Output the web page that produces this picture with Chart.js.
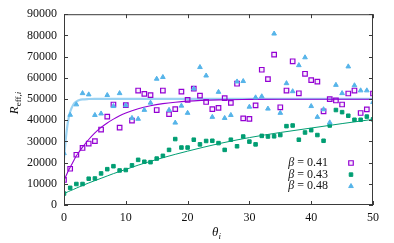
<!DOCTYPE html>
<html><head><meta charset="utf-8">
<script src="https://cdn.jsdelivr.net/npm/chart.js@4.4.0/dist/chart.umd.min.js"></script>
<style>html,body{margin:0;padding:0;background:#fff;}#wrap{width:394px;height:243px;position:relative;}</style>
</head><body><div id="wrap"><canvas id="c" width="394" height="243"></canvas></div>
<script>
const theta = [0,1,2,3,4,5,6,7,8,9,10,11,12,13,14,15,16,17,18,19,20,21,22,23,24,25,26,27,28,29,30,31,32,33,34,35,36,37,38,39,40,41,42,43,44,45,46,47,48,49,50];
const beta041 = [11800,17100,23700,26900,29000,30100,35600,41700,47400,36500,47100,39800,54000,52400,51800,44800,54000,42900,45200,53500,49600,54900,51600,48600,45200,45800,50400,48200,57200,40900,40600,47000,63800,59400,70900,46100,54000,67800,52700,61900,58900,58200,44200,49900,49300,47400,52600,54000,43400,45100,52600];
const beta043 = [5400,8100,9900,9900,12400,12500,14900,16900,18300,16300,16500,18700,21300,20400,20200,21900,23200,26000,31100,27100,27100,30800,28600,30200,30300,29200,26000,30800,27700,32300,29900,28600,32600,32300,32400,33000,37200,37500,30800,34200,35300,33000,30300,37500,44800,43800,42100,40200,40200,41700,40400];
const beta048 = [24400,42500,47400,52700,52100,42400,43100,51800,46600,52700,47000,41000,40600,44800,48200,59500,60300,44800,38800,46800,43400,54900,65000,61000,41500,53300,41000,42400,58200,58400,46300,50700,51200,45400,80800,43400,57400,53600,65900,69600,46600,41500,45100,38900,56600,52700,65300,56400,54000,54000,48500];
const fitTheta = [0,0.25,0.5,0.75,1,1.5,2,2.5,3,4,5,6,7,8,9,10,12,14,16,18,20,25,30,35,40,45,50];
const fit041 = [11700,13300,14900,16400,17800,20500,23200,25300,27300,30900,34000,36600,38700,40500,42100,43400,45400,46800,47800,48500,49000,49600,49800,49900,49900,49900,49900];
const fit043 = [5400,5700,6050,6400,6700,7300,7950,8600,9200,10400,11500,12600,13700,14800,15800,16800,18800,20600,22300,23900,25400,28900,31800,34200,36300,38400,40400];
const fit048 = [22000,30000,36500,41000,44000,47300,48800,49500,49800,50000,50100,50100,50100,50100,50100,50100,50100,50100,50100,50100,50100,50100,50100,50100,50100,50100,50100];
const xTicks = [0,10,20,30,40,50];
const yTicks = [0,10000,20000,30000,40000,50000,60000,70000,80000,90000];
const seriesLabels = ['0.41','0.43','0.48'];

const C41 = '#9400d3', C43 = '#009e73', C48 = '#56b4e9';
const pts = (ys) => theta.map((t,i)=>({x:t,y:ys[i]}));
const fpts = (ys) => fitTheta.map((t,i)=>({x:t,y:ys[i]}));
const FONT = '"Liberation Serif","DejaVu Serif",serif';

const styles = [
  {pointStyle:'rect', radius:3.2, color:C41, fill:'rgba(148,0,211,0.06)', bw:1.2},
  {pointStyle:'rect', radius:2.5, color:C43, fill:C43, bw:1},
  {pointStyle:'triangle', radius:2.7, color:C48, fill:C48, bw:1}
];

function drawMarker(ctx, st, x, y){
  ctx.save();
  ctx.strokeStyle = st.color; ctx.fillStyle = st.fill; ctx.lineWidth = st.bw;
  ctx.beginPath();
  if (st.pointStyle === 'rect') {
    const s = Math.SQRT1_2 * st.radius;
    ctx.rect(x - s, y - s, 2*s, 2*s);
  } else {
    const r = st.radius;
    ctx.moveTo(x, y - r);
    ctx.lineTo(x + r*0.866, y + r*0.5);
    ctx.lineTo(x - r*0.866, y + r*0.5);
    ctx.closePath();
  }
  ctx.fill(); ctx.stroke();
  ctx.restore();
}

const framePlugin = {
  id:'frame',
  afterDraw(chart){
    const {ctx, chartArea:a, scales:{x,y}} = chart;
    ctx.save();
    ctx.strokeStyle = '#3a3a3a'; ctx.lineWidth = 1;
    ctx.strokeRect(a.left+0.5, a.top+0.5, a.right-a.left-1, a.bottom-a.top-1);
    ctx.beginPath();
    xTicks.forEach(v=>{
      const px = Math.round(x.getPixelForValue(v))+0.5;
      ctx.moveTo(px, a.bottom); ctx.lineTo(px, a.bottom-4);
      ctx.moveTo(px, a.top); ctx.lineTo(px, a.top+4);
    });
    yTicks.forEach(v=>{
      const py = Math.round(y.getPixelForValue(v))+0.5;
      ctx.moveTo(a.left, py); ctx.lineTo(a.left+4, py);
      ctx.moveTo(a.right, py); ctx.lineTo(a.right-4, py);
    });
    ctx.stroke();

    ctx.fillStyle = '#111';
    ctx.save();
    ctx.translate(14, 103);
    ctx.rotate(-Math.PI/2);
    ctx.textBaseline = 'alphabetic';
    ctx.font = 'italic 13px ' + FONT;
    const wR = ctx.measureText('R').width;
    ctx.font = '9px ' + FONT;
    const wE = ctx.measureText('eff,').width;
    ctx.font = 'italic 9px ' + FONT;
    const wI = ctx.measureText('i').width;
    let sx = -(wR + wE + wI)/2;
    ctx.font = 'italic 13px ' + FONT;
    ctx.fillText('R', sx, 4); sx += wR;
    ctx.font = '9px ' + FONT;
    ctx.fillText('eff,', sx, 7); sx += wE;
    ctx.font = 'italic 9px ' + FONT;
    ctx.fillText('i', sx, 7);
    ctx.restore();

    ctx.font = 'italic 13px ' + FONT;
    ctx.textBaseline = 'alphabetic';
    const wT = ctx.measureText('θ').width;
    ctx.fillText('θ', 212, 236);
    ctx.font = 'italic 9px ' + FONT;
    ctx.fillText('i', 212 + wT, 239);

    seriesLabels.forEach((lab,i)=>{
      const cy = 163 + i*11.6;
      ctx.textBaseline = 'middle';
      ctx.font = '12px ' + FONT;
      const rest = ' = ' + lab;
      const wRest = ctx.measureText(rest).width;
      ctx.font = 'italic 12px ' + FONT;
      const wB = ctx.measureText('β').width;
      const x0 = 328 - wRest - wB;
      ctx.fillText('β', x0, cy);
      ctx.font = '12px ' + FONT;
      ctx.fillText(rest, x0 + wB, cy);
      drawMarker(ctx, styles[i], 351, cy);
    });
    ctx.restore();
  }
};

const ptDataset = (label, ys, st, order) => ({
  type:'scatter', label, data: pts(ys), showLine:false, order,
  pointStyle: st.pointStyle, pointRadius: st.radius, pointHoverRadius: st.radius,
  borderColor: st.color, backgroundColor: st.fill, borderWidth: st.bw, pointBorderWidth: st.bw
});
const lineDataset = (label, ys, color, width, order) => ({
  type:'line', label, data: fpts(ys), showLine:true, pointRadius:0, order,
  borderColor: color, borderWidth: width, fill:false, cubicInterpolationMode:'monotone', tension:0.4
});

new Chart(document.getElementById('c'), {
  type:'scatter',
  data:{ datasets:[
    lineDataset('fit 0.48', fit048, 'rgba(86,180,233,0.6)', 2.2, 6),
    lineDataset('fit 0.41', fit041, C41, 1.1, 5),
    lineDataset('fit 0.43', fit043, C43, 1, 4),
    ptDataset('β = 0.41', beta041, styles[0], 3),
    ptDataset('β = 0.43', beta043, styles[1], 2),
    ptDataset('β = 0.48', beta048, styles[2], 1)
  ]},
  options:{
    responsive:false, devicePixelRatio:1, animation:false,
    layout:{padding:{left:0, right:21, top:12, bottom:0}},
    plugins:{legend:{display:false}, tooltip:{enabled:false}},
    scales:{
      x:{type:'linear', min:0, max:50,
        afterBuildTicks: s => { s.ticks = xTicks.map(v=>({value:v})); },
        afterFit: s => { s.height = 38; },
        grid:{display:false, drawTicks:false}, border:{display:false},
        ticks:{padding:6, color:'#111', font:{family:FONT, size:12}, callback:v=>String(v), maxRotation:0}
      },
      y:{type:'linear', min:0, max:90000,
        afterBuildTicks: s => { s.ticks = yTicks.map(v=>({value:v})); },
        afterFit: s => { s.width = 64; },
        grid:{display:false, drawTicks:false}, border:{display:false},
        ticks:{padding:7, color:'#111', font:{family:FONT, size:12}, callback:v=>String(v)}
      }
    }
  },
  plugins:[framePlugin]
});
</script></body></html>
